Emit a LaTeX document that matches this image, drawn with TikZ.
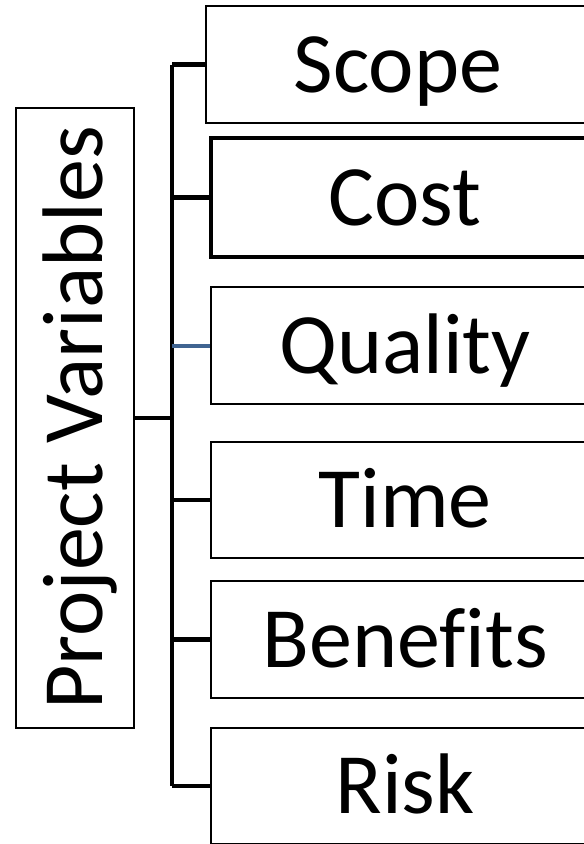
\documentclass[tikz,border=0pt]{standalone}
\usepackage{fontspec}
\setmainfont{Carlito}[Ligatures={NoCommon}]
\begin{document}
\begin{tikzpicture}[x=1pt,y=-1pt,
  lbl/.style={draw=black, line width=2pt, inner sep=0pt, text height=55.4pt, text depth=0pt,
    font=\fontsize{86}{100}\selectfont, minimum height=117pt, minimum width=388pt},
  conn/.style={draw=black, line width=4.5pt},
  blueconn/.style={draw=qblue, line width=4pt}]
\definecolor{qblue}{RGB}{64,100,145}
\useasboundingbox (0,0) rectangle (584,844);
\node[lbl, rotate=90, minimum width=620pt, minimum height=118pt] (pv) at (75,418) {Project Variables};
\node[lbl, minimum width=384pt] (scope) at (398,64.5) {Scope};
\node[lbl, line width=4pt, minimum height=119pt] (cost) at (405,197.5) {Cost};
\node[lbl] (quality) at (405,345.5) {Quality};
\node[lbl, minimum height=116pt] (time) at (405,500) {Time};
\node[lbl] (benefits) at (405,639.5) {Benefits};
\node[lbl, minimum height=116pt] (risk) at (405,786) {Risk};
\coordinate (trunk) at (172,0);
\draw[conn] (scope.west -| trunk) -- (risk.west -| trunk);
\draw[conn] (pv.south) -- (pv.south -| trunk);
\draw[conn] (scope.west -| trunk) -- (scope.west);
\draw[conn] (cost.west -| trunk) -- (cost.west);
\draw[blueconn] (quality.west -| trunk) -- (quality.west);
\draw[conn] (time.west -| trunk) -- (time.west);
\draw[conn] (benefits.west -| trunk) -- (benefits.west);
\draw[conn] (risk.west -| trunk) -- (risk.west);
\end{tikzpicture}
\end{document}
